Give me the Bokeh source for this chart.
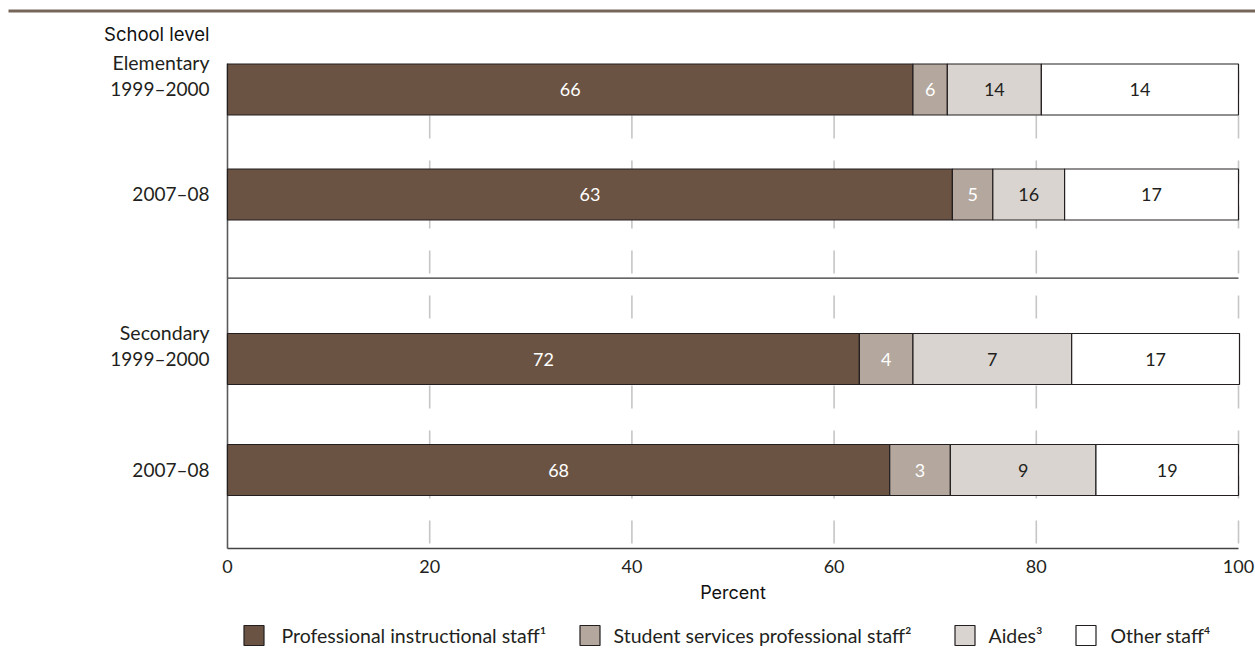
from bokeh.plotting import figure
from bokeh.models import Range1d
from bokeh.core.properties import value
from bokeh.embed import file_html
from bokeh.resources import INLINE

# ---------------- data ----------------
year_labels = ["1999–2000", "2007–08", "1999–2000", "2007–08"]
group_labels = ["Elementary", "", "Secondary", ""]
series_names = ["Professional instructional staff", "Student services professional staff",
                "Aides", "Other staff"]
footnote_marks = ["¹", "²", "³", "⁴"]

# segment widths as drawn in the picture (percent)
prof_instructional = [67.8, 71.7, 62.5, 65.5]
student_services = [3.4, 4.0, 5.3, 6.0]
aides = [9.3, 7.1, 15.7, 14.4]
other_staff = [19.5, 17.2, 16.6, 14.1]

# printed value labels
prof_instructional_lbl = ["66", "63", "72", "68"]
student_services_lbl = ["6", "5", "4", "3"]
aides_lbl = ["14", "16", "7", "9"]
other_staff_lbl = ["14", "17", "17", "19"]

x_ticks = [0, 20, 40, 60, 80, 100]
x_tick_labels = ["0", "20", "40", "60", "80", "100"]

# ---------------- layout / style ----------------
W, H = 1255, 652
PX0, PXU = 227.0, 10.11          # canvas px of 0 %, px per percent
def px(xc):                       # canvas px -> data x
    return (xc - PX0) / PXU

bar_y = [89, 194, 358.5, 469.5]
bar_h = 51
plot_top, plot_bottom, sep_y = 63, 548, 277.7
FONT = value("Lato")
FONT2 = value("Inter")
TXT = "#231f20"
colors = ["#6b5343", "#b4a79e", "#d9d4cf", "#ffffff"]
label_colors = ["#ffffff", "#ffffff", TXT, TXT]

p = figure(width=W, height=H, output_backend="svg", toolbar_location=None,
           x_range=Range1d(px(0), px(W)), y_range=Range1d(H, 0),
           x_axis_location=None, y_axis_location=None, min_border=0,
           outline_line_color=None, background_fill_color="white",
           border_fill_color="white")
p.grid.visible = False

# top rule
p.segment(x0=[px(8)], y0=[10.5], x1=[px(W)], y1=[10.5],
          line_color="#76665a", line_width=3)

# dashed vertical gridlines
grid_x = [t for t in x_ticks if t > 0]
p.segment(x0=grid_x, y0=[70] * len(grid_x), x1=grid_x, y1=[plot_bottom] * len(grid_x),
          line_color="#c6c6c6", line_width=1.6, line_dash="23 22")

# separator between school levels
p.segment(x0=[0], y0=[sep_y], x1=[100], y1=[sep_y], line_color="#333333", line_width=1.3)

# axes lines
p.segment(x0=[0], y0=[plot_top], x1=[0], y1=[plot_bottom], line_color="#5a5a5a", line_width=1.6)
p.segment(x0=[0], y0=[plot_bottom], x1=[100], y1=[plot_bottom], line_color="#444444", line_width=1.6)

# stacked bars
series_vals = [prof_instructional, student_services, aides, other_staff]
series_lbls = [prof_instructional_lbl, student_services_lbl, aides_lbl, other_staff_lbl]
left = [0.0] * 4
for vals, lbls, col, lcol in zip(series_vals, series_lbls, colors, label_colors):
    right = [l + v for l, v in zip(left, vals)]
    p.hbar(y=bar_y, left=left, right=right, height=bar_h, fill_color=col,
           line_color="#231f20", line_width=1.2)
    mids = [(l + r) / 2 for l, r in zip(left, right)]
    p.text(x=mids, y=bar_y, text=lbls, text_align="center", text_baseline="middle",
           text_font=FONT, text_font_size="18px", text_color=lcol)
    left = right

# row labels
lab_x = px(209)
p.text(x=[lab_x] * 4, y=[b - 1 for b in bar_y], text=year_labels, text_align="right",
       text_baseline="middle", text_font=FONT, text_font_size="19px", text_color=TXT)
g_idx = [i for i, g in enumerate(group_labels) if g]
p.text(x=[lab_x] * len(g_idx), y=[bar_y[i] - 27 for i in g_idx],
       text=[group_labels[i] for i in g_idx], text_align="right",
       text_baseline="middle", text_font=FONT, text_font_size="19.5px", text_color=TXT)
p.text(x=[lab_x], y=[33], text=["School level"], text_align="right", text_baseline="middle",
       text_font=FONT2, text_font_size="18.5px", text_color="#111111")

# x tick labels and title
p.text(x=x_ticks, y=[566] * len(x_ticks), text=x_tick_labels, text_align="center",
       text_baseline="middle", text_font=FONT, text_font_size="18px", text_color=TXT)
p.text(x=[50], y=[592], text=["Percent"], text_align="center", text_baseline="middle",
       text_font=FONT2, text_font_size="18px", text_color="#111111")

# legend
leg_sq_x = [253.5, 589.5, 964.5, 1085.5]
leg_tx_x = [281, 613, 988, 1110]
leg_y = 635
p.rect(x=[px(v) for v in leg_sq_x], y=[leg_y] * 4, width=20, height=20,
       width_units="screen", height_units="screen", fill_color=colors,
       line_color="#231f20", line_width=1.2)
p.text(x=[px(v) for v in leg_tx_x], y=[leg_y] * 4,
       text=[n + f for n, f in zip(series_names, footnote_marks)],
       text_align="left", text_baseline="middle", text_font=FONT,
       text_font_size="19.5px", text_color=TXT)

open("out.html", "w").write(file_html(p, INLINE))
